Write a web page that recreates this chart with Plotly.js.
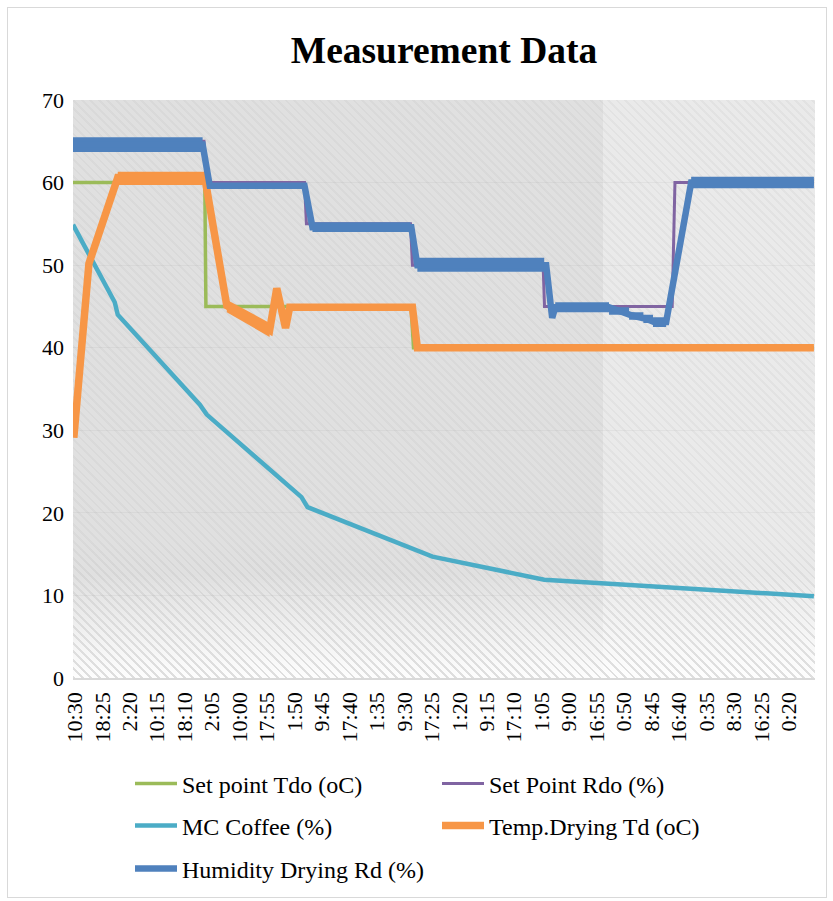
<!DOCTYPE html>
<html>
<head>
<meta charset="utf-8">
<script src="https://cdn.plot.ly/plotly-3.0.1.min.js"></script>
<style>
  body { margin:0; background:#ffffff; }
  #frame { position:absolute; left:7px; top:7px; width:818px; height:889px; border:1px solid #d9d9d9; }
  #bg { position:absolute; left:73px; top:100px; width:742px; height:578px;
    background:
      repeating-linear-gradient(45deg, rgba(170,170,170,0.12) 0px, rgba(170,170,170,0.12) 2px, rgba(0,0,0,0) 2px, rgba(0,0,0,0) 6px),
      linear-gradient(to bottom, rgba(255,255,255,0) 0%, rgba(255,255,255,0) 82%, rgba(255,255,255,0.95) 100%),
      linear-gradient(to right, #e0e0e0 0%, #e0e0e0 71.4%, #eaeaea 71.4%, #eaeaea 100%);
  }
  #bg2 { position:absolute; left:73px; top:540px; width:742px; height:138px;
    background: repeating-linear-gradient(45deg, rgba(170,170,170,0.28) 0px, rgba(170,170,170,0.28) 2px, rgba(0,0,0,0) 2px, rgba(0,0,0,0) 6px);
    -webkit-mask-image: linear-gradient(to bottom, rgba(0,0,0,0) 0%, rgba(0,0,0,1) 100%);
    mask-image: linear-gradient(to bottom, rgba(0,0,0,0) 0%, rgba(0,0,0,1) 100%);
  }
  #chart { position:absolute; left:0; top:0; width:833px; height:901px; }
</style>
</head>
<body>
<div id="frame"></div>
<div id="bg"></div>
<div id="bg2"></div>
<div id="chart"></div>
<script>
// Category tick labels (one every label interval)
const xLabels = ['10:30','18:25','2:20','10:15','18:10','2:05','10:00','17:55','1:50','9:45','17:40','1:35','9:30','17:25','1:20','9:15','17:10','1:05','9:00','16:55','0:50','8:45','16:40','0:35','8:30','16:25','0:20'];

// x positions in label-interval units (label k sits at x = k)
const setTdoX = [-0.07, 4.73, 4.77, 12.24, 12.33, 26.91];
const setTdoY = [60, 60, 45, 45, 40, 40];

const setRdoX = [-0.07, 4.70, 4.80, 8.36, 8.43, 12.22, 12.29, 17.05, 17.10, 21.75, 21.85, 26.91];
const setRdoY = [65, 65, 60, 60, 55, 55, 50, 50, 45, 45, 60, 60];

const mcX = [-0.07, 1.45, 1.56, 4.55, 4.80, 8.25, 8.47, 13.02, 17.09, 21.90, 26.91];
const mcY = [54.9, 45.5, 44.0, 33.1, 31.9, 21.9, 20.7, 14.7, 11.9, 10.9, 9.9];

const tdX = [-0.04, 0.51, 1.56, 4.73, 5.53, 7.09, 7.35, 7.67, 7.82, 12.29, 12.47, 26.91];
const tdY = [29.1, 50.2, 60.6, 60.6, 45.1, 42.1, 47.2, 42.4, 44.9, 44.9, 40.0, 40.0];
// oscillation envelope of Td
const tdBandX = [1.56, 4.73, 4.73, 1.56, null, 5.53, 7.09, 7.09, 5.53];
const tdBandY = [59.7, 59.7, 61.3, 61.3, null, 44.3, 41.3, 43.0, 45.8];

const rdX = [-0.07, 4.65, 4.91, 8.36, 8.65, 12.25, 12.47, 17.16, 17.38, 17.49, 19.45, 19.82, 20.29, 20.80, 21.09, 21.53, 22.44, 26.91];
const rdY = [64.6, 64.6, 59.6, 59.6, 54.6, 54.6, 50.0, 50.0, 43.6, 44.9, 44.9, 44.4, 43.9, 43.5, 43.1, 43.1, 60.0, 60.0];
// oscillation envelope of Rd
const rdBandX = [-0.07, 4.65, 4.65, -0.07, null, 8.65, 12.22, 12.22, 8.65, null, 12.47, 17.09, 17.09, 12.47, null,
                 17.49, 19.45, 19.45, 17.49, null, 19.45, 20.18, 20.18, 19.45, null, 20.18, 20.70, 20.70, 20.18, null,
                 20.70, 21.05, 21.05, 20.70, null, 21.05, 21.53, 21.53, 21.05, null, 22.44, 26.91, 26.91, 22.44];
const rdBandY = [63.7, 63.7, 65.5, 65.5, null, 54.0, 54.0, 55.2, 55.2, null, 49.2, 49.2, 50.9, 50.9, null,
                 44.3, 44.3, 45.5, 45.5, null, 44.0, 44.0, 44.9, 44.9, null, 43.4, 43.4, 44.3, 44.3, null,
                 43.0, 43.0, 44.0, 44.0, null, 42.5, 42.5, 43.7, 43.7, null, 59.3, 59.3, 60.7, 60.7];

const C = { green:'#9BBB59', purple:'#8064A2', teal:'#4BACC6', orange:'#F79646', blue:'#4F81BD' };
const FONT = 'Liberation Serif, Times New Roman, serif';

const traces = [
  { x:setTdoX, y:setTdoY, mode:'lines', name:'Set point Tdo (oC)', legend:'legend', line:{color:C.green, width:3.5} },
  { x:setRdoX, y:setRdoY, mode:'lines', name:'Set Point Rdo (%)', legend:'legend2', line:{color:C.purple, width:3} },
  { x:mcX, y:mcY, mode:'lines', name:'MC Coffee (%)', legend:'legend3', line:{color:C.teal, width:4.5} },
  { x:tdBandX, y:tdBandY, mode:'lines', fill:'toself', fillcolor:C.orange, line:{color:C.orange, width:0}, showlegend:false, hoverinfo:'skip' },
  { x:tdX, y:tdY, mode:'lines', name:'Temp.Drying Td (oC)', legend:'legend4', line:{color:C.orange, width:7.5} },
  { x:rdBandX, y:rdBandY, mode:'lines', fill:'toself', fillcolor:C.blue, line:{color:C.blue, width:0}, showlegend:false, hoverinfo:'skip' },
  { x:rdX, y:rdY, mode:'lines', name:'Humidity Drying Rd (%)', legend:'legend5', line:{color:C.blue, width:6.5} }
];

function leg(xpx, ypx) {
  return {
    x:(xpx - 73) / 742, xanchor:'left',
    y:(678 - ypx) / 578, yanchor:'middle',
    orientation:'v',
    font:{family:FONT, size:24, color:'#000'},
    bgcolor:'rgba(0,0,0,0)', itemwidth:42
  };
}

const layout = {
  width:833, height:901,
  margin:{l:73, r:18, t:100, b:223, autoexpand:false},
  paper_bgcolor:'rgba(0,0,0,0)',
  plot_bgcolor:'rgba(0,0,0,0)',
  font:{family:FONT, color:'#000000'},
  title:{ text:'<b>Measurement Data</b>', font:{family:FONT, size:37.5, color:'#000'},
          x:0.5, xref:'paper', xanchor:'center', y:1-50/901, yref:'container', yanchor:'middle' },
  xaxis:{
    range:[-0.07, 26.95],
    tickmode:'array',
    tickvals:xLabels.map((_, i) => i),
    ticktext:xLabels,
    tickangle:-90,
    tickfont:{family:FONT, size:22, color:'#000'},
    showgrid:false, zeroline:false,
    showline:true, linecolor:'#d9d9d9', linewidth:1.5,
    ticks:'', ticklabelstandoff:4, automargin:false
  },
  yaxis:{
    range:[0,70],
    tickvals:[0,10,20,30,40,50,60,70],
    tickfont:{family:FONT, size:22, color:'#000'},
    showgrid:true, gridcolor:'rgba(0,0,0,0.035)', gridwidth:1,
    zeroline:false, showline:false, ticks:'', ticklabelstandoff:8, automargin:false
  },
  showlegend:true,
  legend:leg(130, 784),
  legend2:leg(437, 784),
  legend3:leg(130, 826),
  legend4:leg(437, 826),
  legend5:leg(130, 869)
};

Plotly.newPlot('chart', traces, layout, {displayModeBar:false, staticPlot:true});
</script>
</body>
</html>
